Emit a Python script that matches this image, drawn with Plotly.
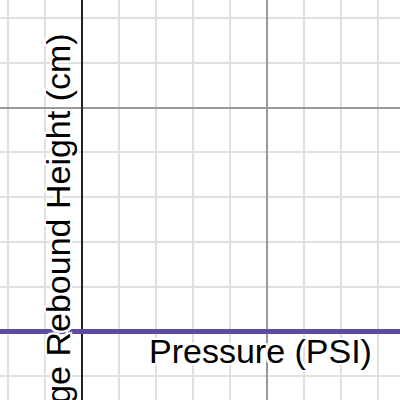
import plotly.graph_objects as go

# flat purple series (pressure vs rebound height)
line_x = [-5, 15]
line_y = [0, 0]

x_title = "Pressure (PSI)"
y_title = "Average Rebound Height (cm)"

PURPLE = "#5d4b9f"
MINOR = "#e0e0e0"
MAJOR = "#999999"
AXIS = "#222222"
FONT = "Liberation Sans, Arial, sans-serif"
HALO = ", ".join(f"{dx}px {dy}px 0 #fff" for dx, dy in
                 [(2, 0), (-2, 0), (0, 2), (0, -2), (2, 2), (-2, -2), (2, -2), (-2, 2)])

fig = go.Figure()
fig.add_trace(go.Scatter(
    x=line_x, y=line_y, mode="lines",
    line=dict(color=PURPLE, width=5),
    showlegend=False, hoverinfo="skip",
))

axis_common = dict(
    dtick=5, tick0=0,
    showgrid=True, gridcolor=MAJOR, gridwidth=2,
    minor=dict(dtick=1, tick0=0, showgrid=True, gridcolor=MINOR, gridwidth=2),
    zeroline=True, zerolinecolor=AXIS, zerolinewidth=2,
    showticklabels=False, ticks="", showline=False,
)

fig.update_layout(
    width=400, height=400,
    margin=dict(l=0, r=0, t=0, b=0),
    paper_bgcolor="white", plot_bgcolor="white",
    font=dict(family=FONT, color="black"),
    xaxis=dict(range=[-81.5 / 37, 318.5 / 37], **axis_common),
    yaxis=dict(range=[-68.5 / 44.8, 331.5 / 44.8], **axis_common),
    annotations=[
        dict(text=x_title, xref="paper", yref="paper",
             x=260.8 / 400, y=1 - 330 / 400, xanchor="center", yanchor="top",
             showarrow=False, font=dict(size=34, family=FONT, color="black", shadow=HALO)),
        dict(text=y_title, xref="paper", yref="paper", textangle=-90,
             x=58 / 400, y=1 - 263 / 400, xanchor="center", yanchor="middle",
             showarrow=False, font=dict(size=34, family=FONT, color="black", shadow=HALO)),
    ],
)

# drop the page's default body margin so the chart fills the window
fig.write_html("out.html", config={"displayModeBar": False},
               post_script="document.body.style.margin='0';")
